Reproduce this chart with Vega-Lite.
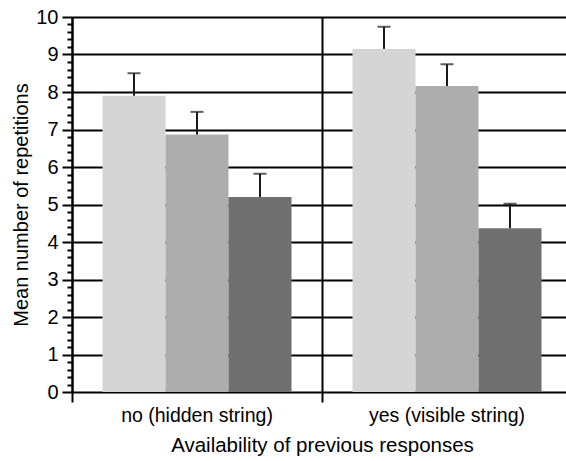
{
  "$schema": "https://vega.github.io/schema/vega-lite/v6.json",
  "width": 494,
  "height": 375,
  "autosize": "none",
  "padding": {"left": 72, "top": 17, "right": 0, "bottom": 69},
  "config": {"view": {"stroke": null}, "font": "Liberation Sans"},
  "data": {
    "values": [
      {"availability": "no (hidden string)", "condition": "1", "mean": 7.9, "upper": 8.5},
      {"availability": "no (hidden string)", "condition": "2", "mean": 6.87, "upper": 7.47},
      {"availability": "no (hidden string)", "condition": "3", "mean": 5.2, "upper": 5.82},
      {"availability": "yes (visible string)", "condition": "1", "mean": 9.15, "upper": 9.74},
      {"availability": "yes (visible string)", "condition": "2", "mean": 8.16, "upper": 8.74},
      {"availability": "yes (visible string)", "condition": "3", "mean": 4.37, "upper": 5.02}
    ]
  },
  "encoding": {
    "x": {
      "field": "availability",
      "type": "nominal",
      "sort": ["no (hidden string)", "yes (visible string)"],
      "scale": {"range": [0, 500], "paddingInner": 0, "paddingOuter": 0},
      "axis": {
        "title": "Availability of previous responses",
        "titleFontSize": 20.5,
        "titleFontWeight": "normal",
        "titleColor": "black",
        "titlePadding": 11,
        "labelAngle": 0,
        "labelFontSize": 19.5,
        "labelColor": "black",
        "labelPadding": 4,
        "domainColor": "black",
        "domainWidth": 2,
        "bandPosition": 0,
        "ticks": true,
        "tickSize": 10,
        "tickColor": "black",
        "tickWidth": 2,
        "grid": true,
        "gridColor": "black",
        "gridWidth": 2
      }
    },
    "xOffset": {
      "field": "condition",
      "type": "nominal",
      "scale": {"paddingOuter": 0.484, "paddingInner": 0}
    },
    "y": {
      "field": "mean",
      "type": "quantitative",
      "scale": {"domain": [0, 10], "nice": false},
      "axis": {
        "title": "Mean number of repetitions",
        "titleFontSize": 20,
        "titleFontWeight": "normal",
        "titleColor": "black",
        "titlePadding": 4,
        "values": [0, 0.2, 0.4, 0.6, 0.8, 1, 1.2, 1.4, 1.6, 1.8, 2, 2.2, 2.4, 2.6, 2.8, 3, 3.2, 3.4, 3.6, 3.8, 4, 4.2, 4.4, 4.6, 4.8, 5, 5.2, 5.4, 5.6, 5.8, 6, 6.2, 6.4, 6.6, 6.8, 7, 7.2, 7.4, 7.6, 7.8, 8, 8.2, 8.4, 8.6, 8.8, 9, 9.2, 9.4, 9.6, 9.8, 10],
        "labelExpr": "datum.value % 1 === 0 ? '' + datum.value : ''",
        "labelOverlap": false,
        "labelFontSize": 20,
        "labelColor": "black",
        "labelPadding": 4,
        "domainColor": "black",
        "domainWidth": 2,
        "tickColor": "black",
        "tickWidth": 2,
        "tickSize": {"condition": {"test": "datum.value % 1 === 0", "value": 10}, "value": 5},
        "grid": true,
        "gridColor": "black",
        "gridWidth": 2,
        "gridOpacity": {"condition": {"test": "datum.value % 1 === 0 && datum.value > 0", "value": 1}, "value": 0}
      }
    }
  },
  "layer": [
    {
      "mark": {"type": "bar"},
      "encoding": {
        "color": {
          "field": "condition",
          "type": "nominal",
          "scale": {"domain": ["1", "2", "3"], "range": ["#d5d5d5", "#adadad", "#707070"]},
          "legend": null
        }
      }
    },
    {
      "mark": {"type": "rule", "color": "#1a1a1a", "strokeWidth": 2},
      "encoding": {
        "y2": {"field": "upper"}
      }
    },
    {
      "mark": {"type": "tick", "orient": "horizontal", "size": 13, "thickness": 2, "color": "#1a1a1a"},
      "encoding": {
        "y": {
          "field": "upper",
          "type": "quantitative",
          "axis": {
            "title": "Mean number of repetitions",
            "titleFontSize": 20,
            "titleFontWeight": "normal",
            "titleColor": "black",
            "titlePadding": 4,
            "values": [0, 0.2, 0.4, 0.6, 0.8, 1, 1.2, 1.4, 1.6, 1.8, 2, 2.2, 2.4, 2.6, 2.8, 3, 3.2, 3.4, 3.6, 3.8, 4, 4.2, 4.4, 4.6, 4.8, 5, 5.2, 5.4, 5.6, 5.8, 6, 6.2, 6.4, 6.6, 6.8, 7, 7.2, 7.4, 7.6, 7.8, 8, 8.2, 8.4, 8.6, 8.8, 9, 9.2, 9.4, 9.6, 9.8, 10],
            "labelExpr": "datum.value % 1 === 0 ? '' + datum.value : ''",
            "labelOverlap": false,
            "labelFontSize": 20,
            "labelColor": "black",
            "labelPadding": 4,
            "domainColor": "black",
            "domainWidth": 2,
            "tickColor": "black",
            "tickWidth": 2,
            "tickSize": {"condition": {"test": "datum.value % 1 === 0", "value": 10}, "value": 5},
            "grid": true,
            "gridColor": "black",
            "gridWidth": 2,
            "gridOpacity": {"condition": {"test": "datum.value % 1 === 0 && datum.value > 0", "value": 1}, "value": 0}
          }
        }
      }
    }
  ]
}
